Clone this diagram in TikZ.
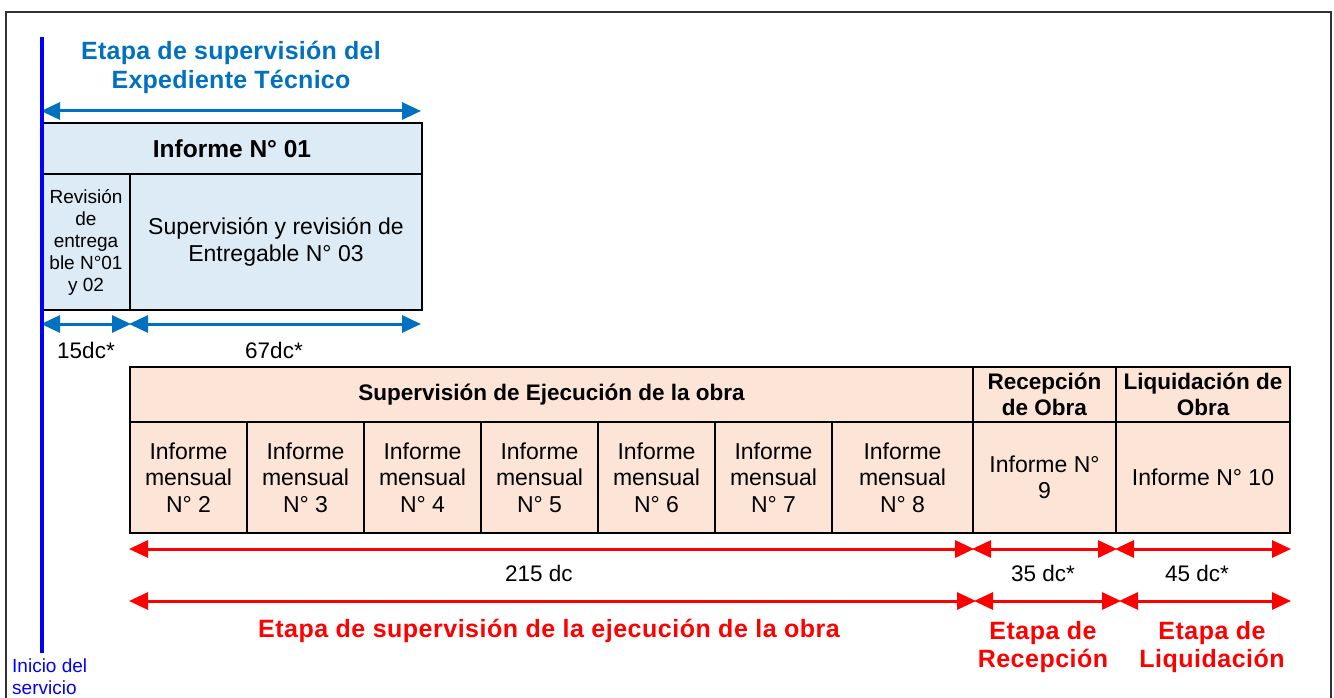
\documentclass[tikz,border=0pt]{standalone}
\usepackage{fontspec}
\setmainfont{Liberation Sans}
\usetikzlibrary{arrows.meta}
\definecolor{lblue}{RGB}{221,235,247}
\definecolor{peach}{RGB}{252,228,214}
\definecolor{tblue}{RGB}{0,112,192}
\definecolor{pureblue}{RGB}{0,0,255}
\definecolor{pred}{RGB}{255,0,0}
\definecolor{frame}{RGB}{50,50,50}
\tikzset{
  cellbox/.style={draw=black, line width=2pt, inner sep=0pt, align=center},
  bluecell/.style={cellbox, fill=lblue},
  peachcell/.style={cellbox, fill=peach},
  body/.style={font=\fontsize{23}{26.5}\selectfont},
  smalltxt/.style={font=\fontsize{19}{22}\selectfont},
  hdr/.style={font=\fontsize{22.5}{26}\selectfont\bfseries},
  barrow/.style={tblue, line width=3pt, {Triangle[length=19pt,width=17pt]}-{Triangle[length=19pt,width=17pt]}},
  rarrow/.style={pred, line width=3pt, {Triangle[length=19pt,width=17pt]}-{Triangle[length=19pt,width=17pt]}},
  dclabel/.style={font=\fontsize{22.5}{26}\selectfont, inner sep=0pt},
  redtitle/.style={pred, font=\fontsize{25}{28}\selectfont\bfseries\addfontfeature{LetterSpace=2}, align=center, inner sep=0pt},
}
\begin{document}
\begin{tikzpicture}[x=1pt,y=-1pt]
\useasboundingbox (0,0) rectangle (1334,698);
% frame
\coordinate (f1) at (6,698);
\coordinate (f2) at (6,12);
\coordinate (f3) at (1331,12);
\coordinate (f4) at (1331,698);
\draw[frame, line width=1.8pt] (f1) -- (f2) -- (f3) -- (f4);

% blue title
\node[tblue, font=\fontsize{25}{29}\selectfont\bfseries\addfontfeature{LetterSpace=1}, align=center, inner sep=0pt] (ttl) at (231,67.5) {Etapa de supervisión del\\Expediente Técnico};

% Informe 01 box
\node[bluecell, minimum width=380pt, minimum height=51pt, font=\fontsize{24.5}{28}\selectfont\bfseries] (inf) at (232,148.5) {Informe N° 01};
\node[bluecell, smalltxt, minimum width=88pt, minimum height=136pt] (rev) at (86,242) {Revisión\\de\\entrega\\ble N°01\\y 02};
\node[bluecell, body, minimum width=292pt, minimum height=136pt] (sup) at (276,242) {Supervisión y revisión de\\Entregable N° 03};

\draw[barrow] ([yshift=11pt]inf.north west) -- ([xshift=-2pt,yshift=11pt]inf.north east);
\draw[barrow] ([yshift=-13pt]rev.south west) -- ([yshift=-13pt]rev.south east);
\draw[barrow] ([yshift=-13pt]sup.south west) -- ([xshift=-2pt,yshift=-13pt]sup.south east);
\node[dclabel] (d15) at (86,350) {15dc*};
\node[dclabel] (d67) at (274,350) {67dc*};

% big table header
\node[peachcell, hdr, minimum width=843pt, minimum height=55pt] (hsup) at (551.5,394.5) {Supervisión de Ejecución de la obra};
\node[peachcell, hdr, minimum width=143pt, minimum height=55pt] (hrec) at (1044.5,394.5) {Recepción\\de Obra};
\node[peachcell, hdr, minimum width=174pt, minimum height=55pt] (hliq) at (1203,394.5) {Liquidación de\\Obra};

% monthly cells
\node[peachcell, body, minimum width=117pt, minimum height=111pt] (c2) at (188.5,477.5) {Informe\\mensual\\N° 2};
\node[peachcell, body, minimum width=117pt, minimum height=111pt] (c3) at (305.5,477.5) {Informe\\mensual\\N° 3};
\node[peachcell, body, minimum width=117pt, minimum height=111pt] (c4) at (422.5,477.5) {Informe\\mensual\\N° 4};
\node[peachcell, body, minimum width=117pt, minimum height=111pt] (c5) at (539.5,477.5) {Informe\\mensual\\N° 5};
\node[peachcell, body, minimum width=117pt, minimum height=111pt] (c6) at (656.5,477.5) {Informe\\mensual\\N° 6};
\node[peachcell, body, minimum width=117pt, minimum height=111pt] (c7) at (773.5,477.5) {Informe\\mensual\\N° 7};
\node[peachcell, body, minimum width=141pt, minimum height=111pt] (c8) at (902.5,477.5) {Informe\\mensual\\N° 8};
\node[peachcell, body, minimum width=143pt, minimum height=111pt] (c9) at (1044.5,477.5) {Informe N°\\9};
\node[peachcell, body, minimum width=174pt, minimum height=111pt] (c10) at (1203,477.5) {Informe N° 10};

% red arrows row 1
\draw[rarrow] ([yshift=-15pt]c2.south west) -- ([yshift=-15pt]c8.south east);
\draw[rarrow] ([yshift=-15pt]c9.south west) -- ([yshift=-15pt]c9.south east);
\draw[rarrow] ([yshift=-15pt]c10.south west) -- ([yshift=-15pt]c10.south east);
\node[dclabel] (d215) at (539,573) {215 dc};
\node[dclabel] (d35) at (1043,573) {35 dc*};
\node[dclabel] (d45) at (1197,573) {45 dc*};

% red arrows row 2
\draw[rarrow] ([yshift=-67pt]c2.south west) -- ([xshift=2pt,yshift=-67pt]c8.south east);
\draw[rarrow] ([xshift=2pt,yshift=-67pt]c9.south west) -- ([xshift=4pt,yshift=-67pt]c9.south east);
\draw[rarrow] ([xshift=4pt,yshift=-67pt]c10.south west) -- ([yshift=-67pt]c10.south east);
\node[redtitle] (rt1) at (549,631) {Etapa de supervisión de la ejecución de la obra};
\node[redtitle] (rt2) at (1043,647) {Etapa de\\Recepción};
\node[redtitle] (rt3) at (1212,647) {Etapa de\\Liquidación};

% blue start line
\coordinate (vtop) at (42,37);
\coordinate (vbot) at (42,653);
\draw[pureblue, line width=4.5pt] (vtop) -- (vbot);
\node[pureblue, font=\fontsize{19}{22}\selectfont, align=left, anchor=west, inner sep=0pt] (ini) at (12,677) {Inicio del\\servicio};
\end{tikzpicture}
\end{document}
